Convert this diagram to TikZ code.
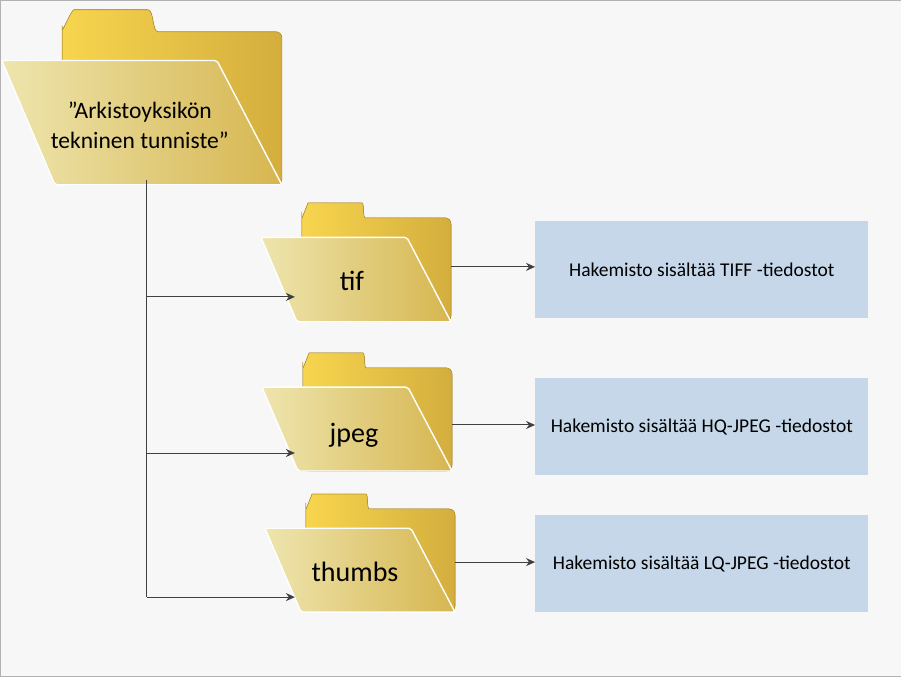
\documentclass[tikz,border=0pt]{standalone}
\usepackage{fontspec}
\setmainfont{Carlito}
\usetikzlibrary{arrows.meta}
\definecolor{backL}{HTML}{F8D54E}
\definecolor{backR}{HTML}{D3AE3E}
\definecolor{frontL}{HTML}{EEE5AE}
\definecolor{frontR}{HTML}{D6B650}
\definecolor{boxc}{HTML}{C5D7E9}
\definecolor{edge}{HTML}{B8962E}
\begin{document}
\begin{tikzpicture}[x=1pt,y=-1pt,
  back/.style={left color=backL, right color=backR, draw=edge, line width=0.6pt},
  front/.style={left color=frontL, right color=frontR, draw=white, line width=1.4pt},
  arr/.style={draw=black!75, line width=1pt, -{Stealth[length=9pt,width=8pt]}},
  info/.style={fill=boxc, minimum width=333pt, minimum height=97pt, anchor=north west, inner sep=0pt, font=\fontsize{19.5}{23}\selectfont},
  lbl/.style={align=center, text=black}]
\path[fill=gray!6, draw=gray!60] (0.5,0.5) rectangle (900.5,676.5);
\newcommand\fold[5]{%
\begin{scope}[shift={(#1,#2)}]
\fill[back, rounded corners=6pt] ({0.216*#3},{0.126*#4}) -- ({0.216*#3},{0.08*#4}) to[out=-90,in=180] ({0.28*#3},0) -- ({0.5*#3},0) to[out=0,in=180] ({0.58*#3},{0.126*#4}) -- ({#3},{0.126*#4}) -- ({#3},{#4}) -- ({0.216*#3},{#4}) -- cycle;
\fill[front, rounded corners=2pt] (0,{0.29*#4}) -- ({0.768*#3},{0.29*#4}) -- ({#3},{#4}) -- ({0.19*#3},{#4}) -- cycle;
\coordinate (#5) at ({0.5*#3},{0.645*#4});
\end{scope}}
\fold{2}{10}{280}{175}{root}
\node[lbl, font=\fontsize{23.5}{30}\selectfont] (roottext) at (140,126) {”Arkistoyksikön\\tekninen tunniste”};
\fold{261}{203}{190}{119}{tif}
\node[font=\fontsize{28}{32}\selectfont] (tift) at (352,281) {tif};
\fold{262}{353}{190}{118}{jpeg}
\node[font=\fontsize{28}{32}\selectfont] (jpegt) at (354,435) {jpeg};
\fold{265}{494}{190}{118}{thumbs}
\node[font=\fontsize{28}{32}\selectfont] (thumbst) at (355,572) {thumbs};
\node[info] (b1) at (535,221) {Hakemisto sisältää TIFF -tiedostot};
\node[info] (b2) at (535,378) {Hakemisto sisältää HQ-JPEG -tiedostot};
\node[info] (b3) at (535,515) {Hakemisto sisältää LQ-JPEG -tiedostot};
\coordinate (top) at (147,180);
\coordinate (j1) at (147,297);
\coordinate (j2) at (147,453);
\coordinate (j3) at (147,597);
\coordinate (a1) at (295,297);
\coordinate (a2) at (295,453);
\coordinate (a3) at (295,597);
\draw[draw=black!75, line width=1pt] (top) -- (j3);
\draw[arr] (j1) -- (a1);
\draw[arr] (j2) -- (a2);
\draw[arr] (j3) -- (a3);
\coordinate (o1) at (451,267);
\coordinate (o2) at (452,425);
\coordinate (o3) at (455,562);
\draw[arr] (o1) -- (b1.west |- o1);
\draw[arr] (o2) -- (b2.west |- o2);
\draw[arr] (o3) -- (b3.west |- o3);
\end{tikzpicture}
\end{document}
